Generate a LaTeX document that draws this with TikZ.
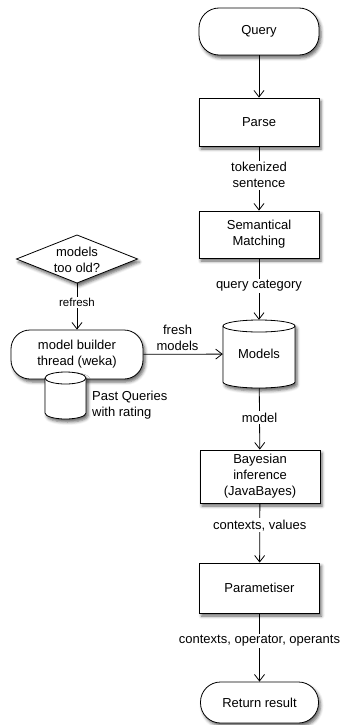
\documentclass[tikz,border=0pt]{standalone}
\usepackage{fontspec}
\setmainfont{Liberation Sans}
\usetikzlibrary{arrows.meta,shadows.blur}

\begin{document}
\begin{tikzpicture}[x=1pt,y=1pt,
  font=\fontsize{13}{16}\selectfont,
  shade/.style={blur shadow={shadow xshift=2pt,shadow yshift=-3pt,
      shadow blur radius=3pt,shadow opacity=60}},
  outline/.style={draw,line width=0.8pt},
  process/.style={outline,fill=white,shade,align=center,inner sep=1pt,
      minimum width=120pt,minimum height=48pt},
  terminal/.style={process,rounded corners=20pt},
  shell/.style={outline,fill=white,shade},
  textonly/.style={align=center,inner sep=0pt},
  flow/.style={outline,-{Straight Barb[length=6.5pt,width=10pt]}},
  lbl/.style={fill=white,align=center,inner sep=1.5pt}
]
\useasboundingbox (0,0) rectangle (343,-725);

% main pipeline
\node[terminal,minimum height=47pt] (query) at (259,-31.5) {Query};
\node[process] (parse) at (259,-122) {Parse};
\node[process,minimum height=47pt] (match) at (259,-234.5) {Semantical\\Matching};

% model store (cylinder)
\path[shell] (223,-326) -- (223,-382)
  arc[start angle=180,end angle=360,x radius=36,y radius=6] -- (295,-326)
  arc[start angle=0,end angle=180,x radius=36,y radius=6] -- cycle;
\draw[outline] (223,-326) arc[start angle=180,end angle=360,x radius=36,y radius=6];
\node[textonly,minimum width=72pt,minimum height=68pt] (models) at (259,-354)
  {\raisebox{-3pt}{Models}};

\node[process,minimum height=53pt] (bayes) at (260,-476.5) {Bayesian\\inference\\(JavaBayes)};
\node[process,minimum height=50pt] (param) at (259.5,-588) {Parametiser};
\node[terminal,minimum width=118pt,minimum height=41pt] (result) at (259.5,-702.5) {Return result};

% background model building
\path[shell] (77,-235) -- (137.5,-259) -- (77,-283) -- (16.5,-259) -- cycle;
\node[textonly] (old) at (77,-259.5) {models\\too old?};
\coordinate (oldtip) at (77,-283);

\node[terminal,minimum width=132pt,minimum height=49pt,rounded corners=19pt]
  (builder) at (77,-354.5) {model builder\\thread (weka)};

\path[shell] (45,-378) -- (45,-413)
  arc[start angle=180,end angle=360,x radius=20.5,y radius=6] -- (86,-378)
  arc[start angle=0,end angle=180,x radius=20.5,y radius=6] -- cycle;
\draw[outline] (45,-378) arc[start angle=180,end angle=360,x radius=20.5,y radius=6];
\node[textonly,anchor=west,align=left] (past) at (92,-405) {Past Queries\\with rating};

% connectors
\draw[flow] (query) -- (parse);
\draw[flow] (parse) -- node[lbl,pos=0.45] {tokenized\\sentence} (match);
\draw[flow] (match) -- node[lbl,pos=0.45] {query category} (models);
\draw[flow] (models) -- node[lbl,pos=0.48] {model} (bayes);
\draw[flow] (bayes) -- node[lbl,pos=0.37] {contexts, values} (param);
\draw[flow] (param) -- node[lbl,pos=0.4] {contexts, operator, operants} (result);
\draw[flow] (oldtip) -- node[lbl,pos=0.42,font=\fontsize{11.5}{14}\selectfont] {refresh} (builder);
\draw[flow] (builder) -- node[above,align=center,pos=0.43,inner sep=3pt] {fresh\\models} (models);
\end{tikzpicture}
\end{document}
